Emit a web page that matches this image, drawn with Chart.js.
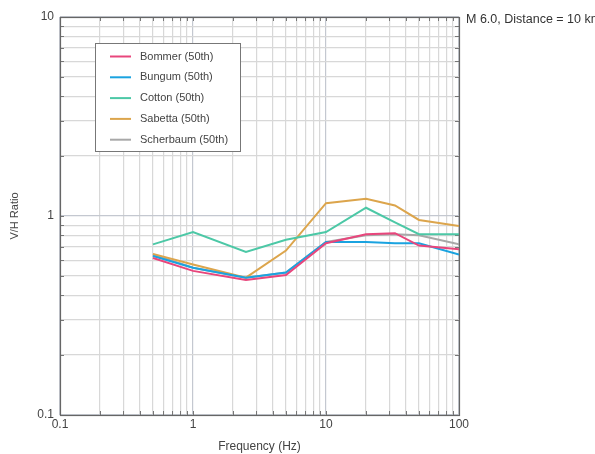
<!DOCTYPE html>
<html>
<head>
<meta charset="utf-8">
<script src="https://cdn.jsdelivr.net/npm/chart.js@4.4.0/dist/chart.umd.min.js"></script>
<style>
  html, body { margin: 0; padding: 0; background: #fff; }
  #wrap { width: 595px; height: 454px; }
</style>
</head>
<body>
<div id="wrap"><canvas id="myChart" width="595" height="454"></canvas></div>
<script>
// frequencies (Hz)
const freqs = [0.5, 1, 2.5, 5, 10, 20, 33, 50, 100];

// V/H ratio per model
const bommer    = [0.615, 0.53, 0.477, 0.505, 0.73, 0.81, 0.82, 0.71, 0.68];
const bungum    = [0.63, 0.55, 0.49, 0.52, 0.74, 0.74, 0.73, 0.73, 0.64];
const cotton    = [0.72, 0.83, 0.66, 0.76, 0.83, 1.10, 0.93, 0.81, 0.81];
const sabetta   = [0.645, 0.57, 0.49, 0.67, 1.16, 1.22, 1.13, 0.955, 0.89];
const scherbaum = [0.64, 0.55, 0.49, 0.52, 0.74, 0.80, 0.81, 0.80, 0.72];

const seriesNames = ["Bommer (50th)", "Bungum (50th)", "Cotton (50th)", "Sabetta (50th)", "Scherbaum (50th)"];
const seriesColors = ["#e8467c", "#1aa3e0", "#4cc8a6", "#dca54c", "#a8a8a8"];

const xTickLabels = ["0.1", "1", "10", "100"];
const yTickLabels = ["0.1", "1", "10"];
const titleText = "M 6.0, Distance = 10 km";

function logTicks(min, max) {
  const out = [];
  for (let d = min; d < max * 0.999; d *= 10) {
    for (let m = 1; m <= 9; m++) out.push(+(d * m).toPrecision(3));
  }
  out.push(max);
  return out;
}
function isMajor(v) {
  const l = Math.log10(v);
  return Math.abs(l - Math.round(l)) < 1e-6;
}
function fmt(v) { return +v.toPrecision(3) + ""; }

const allSeries = [bommer, bungum, cotton, sabetta, scherbaum];
const datasets = allSeries.map((vals, i) => ({
  label: seriesNames[i],
  data: freqs.map((f, j) => ({ x: f, y: vals[j] })),
  borderColor: seriesColors[i],
  backgroundColor: seriesColors[i],
  borderWidth: 2,
  pointRadius: 0,
  tension: 0,
  fill: false
}));

const frame = {
  id: "frame",
  beforeDatasetsDraw(chart) {
    const { ctx, chartArea: a, scales } = chart;
    ctx.save();
    ctx.strokeStyle = "#777";
    ctx.lineWidth = 1;
    ctx.beginPath();
    scales.x.ticks.forEach(t => {
      const px = Math.round(scales.x.getPixelForValue(t.value)) + 0.5;
      ctx.moveTo(px, a.bottom); ctx.lineTo(px, a.bottom - 4);
      ctx.moveTo(px, a.top); ctx.lineTo(px, a.top + 4);
    });
    scales.y.ticks.forEach(t => {
      const py = Math.round(scales.y.getPixelForValue(t.value)) + 0.5;
      ctx.moveTo(a.left, py); ctx.lineTo(a.left + 4, py);
      ctx.moveTo(a.right, py); ctx.lineTo(a.right - 4, py);
    });
    ctx.stroke();
    ctx.restore();
  },
  afterDatasetsDraw(chart) {
    const { ctx, chartArea: a } = chart;
    ctx.save();
    ctx.strokeStyle = "#666";
    ctx.lineWidth = 1.2;
    ctx.strokeRect(Math.round(a.left) + 0.5, Math.round(a.top) + 0.5,
      Math.round(a.right - a.left), Math.round(a.bottom - a.top));

    // legend box
    const bx = 95.5, by = 43.5, bw = 145, bh = 108;
    ctx.fillStyle = "#fff";
    ctx.fillRect(bx, by, bw, bh);
    ctx.strokeStyle = "#777";
    ctx.lineWidth = 1;
    ctx.strokeRect(bx, by, bw, bh);
    ctx.font = "11px 'Liberation Sans', Arial, sans-serif";
    ctx.textBaseline = "middle";
    chart.data.datasets.forEach((ds, i) => {
      const y = 56.5 + i * 20.8;
      ctx.strokeStyle = ds.borderColor;
      ctx.lineWidth = 2;
      ctx.beginPath();
      ctx.moveTo(110, y); ctx.lineTo(131, y);
      ctx.stroke();
      ctx.fillStyle = "#444";
      ctx.fillText(ds.label, 140, y);
    });

    // title at right
    ctx.font = "12.5px 'Liberation Sans', Arial, sans-serif";
    ctx.fillStyle = "#333";
    ctx.textBaseline = "middle";
    ctx.fillText(titleText, 466, 20);
    ctx.restore();
  }
};

new Chart(document.getElementById("myChart").getContext("2d"), {
  type: "line",
  data: { datasets: datasets },
  options: {
    responsive: false,
    animation: false,
    layout: { padding: { top: 17, right: 136, left: 0, bottom: 0 } },
    plugins: { legend: { display: false }, tooltip: { enabled: false } },
    scales: {
      x: {
        type: "logarithmic",
        min: 0.1, max: 100,
        afterBuildTicks(scale) { scale.ticks = logTicks(0.1, 100).map(v => ({ value: v })); },
        afterFit(scale) { scale.height = 39; },
        ticks: {
          autoSkip: false, maxRotation: 0, padding: 2,
          color: "#444",
          font: { family: "'Liberation Sans', Arial, sans-serif", size: 12 },
          callback(v) { const s = fmt(v); return isMajor(v) && xTickLabels.includes(s) ? s : ""; }
        },
        grid: {
          color: c => (c.tick && isMajor(c.tick.value)) ? "#c4c8d0" : "#d8d8d8",
          lineWidth: 1.2,
          drawTicks: false
        },
        border: { display: false },
        title: {
          display: true, text: "Frequency (Hz)", color: "#444",
          font: { family: "'Liberation Sans', Arial, sans-serif", size: 12 },
          padding: { top: 6, bottom: 0 }
        }
      },
      y: {
        type: "logarithmic",
        min: 0.1, max: 10,
        afterBuildTicks(scale) { scale.ticks = logTicks(0.1, 10).map(v => ({ value: v })); },
        afterFit(scale) { scale.width = 60; },
        ticks: {
          autoSkip: false, padding: 6,
          color: "#444",
          font: { family: "'Liberation Sans', Arial, sans-serif", size: 12 },
          callback(v) { const s = fmt(v); return isMajor(v) && yTickLabels.includes(s) ? s : ""; }
        },
        grid: {
          color: c => (c.tick && isMajor(c.tick.value)) ? "#c4c8d0" : "#d8d8d8",
          lineWidth: 1.2,
          drawTicks: false
        },
        border: { display: false },
        title: {
          display: true, text: "V/H Ratio", color: "#444",
          font: { family: "'Liberation Sans', Arial, sans-serif", size: 11 },
          padding: { top: 8, bottom: 0 }
        }
      }
    }
  },
  plugins: [frame]
});
</script>
</body>
</html>
